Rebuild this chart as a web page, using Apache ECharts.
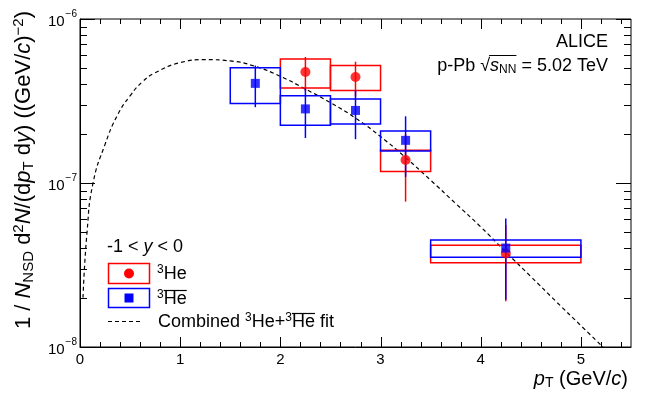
<!DOCTYPE html>
<html>
<head>
<meta charset="utf-8">
<script src="https://cdn.jsdelivr.net/npm/echarts@6/dist/echarts.min.js"></script>
<style>
  html, body { margin: 0; padding: 0; background: #fff; }
  #chart { width: 664px; height: 395px; }
</style>
</head>
<body>
<div id="chart"></div>
<script>
// 3He points: pT centre, bin edges, value, stat error, syst error
const hePt = [2.25, 2.75, 3.25, 4.25];
const heBinLo = [2.0, 2.5, 3.0, 3.5];
const heBinHi = [2.5, 3.0, 3.5, 5.0];
const heVal = [4.75e-7, 4.43e-7, 1.38e-7, 3.72e-8];
const heStat = [1.12e-7, 1.06e-7, 0.61e-7, 1.82e-8];
const heSys = [0.96e-7, 0.77e-7, 0.205e-7, 0.46e-8];

// anti-3He points
const ahePt = [1.75, 2.25, 2.75, 3.25, 4.25];
const aheBinLo = [1.5, 2.0, 2.5, 3.0, 3.5];
const aheBinHi = [2.0, 2.5, 3.0, 3.5, 5.0];
const aheVal = [4.05e-7, 2.83e-7, 2.77e-7, 1.82e-7, 4.01e-8];
const aheStat = [1.15e-7, 0.95e-7, 0.92e-7, 0.73e-7, 2.06e-8];
const aheSys = [1.0e-7, 0.58e-7, 0.48e-7, 0.255e-7, 0.485e-8];

// combined fit curve
const fitPt = [0.03, 0.07, 0.13, 0.25, 0.375, 0.5, 0.625, 0.75, 1.0, 1.25, 1.5, 1.75, 2.0, 2.25, 2.5, 2.75, 3.0, 3.25, 3.5, 3.75, 4.0, 4.25, 4.5, 4.75, 5.0, 5.22];
const fitVal = [2.0e-8, 5.0e-8, 1.0e-7, 1.72e-7, 2.6e-7, 3.4e-7, 4.15e-7, 4.7e-7, 5.42e-7, 5.65e-7, 5.55e-7, 5.14e-7, 4.47e-7, 3.74e-7, 3.09e-7, 2.49e-7, 1.92e-7, 1.43e-7, 1.04e-7, 7.5e-8, 5.4e-8, 3.8e-8, 2.69e-8, 1.9e-8, 1.35e-8, 1.0e-8];

// tick marks
const xMajorTicks = [0, 1, 2, 3, 4, 5];
const xMinorTicks = [0.2, 0.4, 0.6, 0.8, 1.2, 1.4, 1.6, 1.8, 2.2, 2.4, 2.6, 2.8, 3.2, 3.4, 3.6, 3.8, 4.2, 4.4, 4.6, 4.8, 5.2, 5.4];
const yMajorTicks = [1e-8, 1e-7, 1e-6];
const yMinorTicks = [2e-8, 3e-8, 4e-8, 5e-8, 6e-8, 7e-8, 8e-8, 9e-8, 2e-7, 3e-7, 4e-7, 5e-7, 6e-7, 7e-7, 8e-7, 9e-7];

const FONT = "Liberation Sans";
const RED = "#ff0000";
const BLUE = "#0000ff";

// text width helper, used to place the overlines
const mctx = document.createElement("canvas").getContext("2d");
function tw(s, size, italic) {
  mctx.font = (italic ? "italic " : "") + size + "px '" + FONT + "'";
  return mctx.measureText(s).width;
}

function boxData(pt, val, stat, sys, lo, hi) {
  return pt.map((p, i) => [p, val[i], stat[i], sys[i], lo[i], hi[i]]);
}

function boxRenderer(color) {
  return function (params, api) {
    const x = api.value(0), v = api.value(1), stat = api.value(2), sys = api.value(3);
    const tl = api.coord([api.value(4), v + sys]);
    const br = api.coord([api.value(5), v - sys]);
    const et = api.coord([x, v + stat]);
    const eb = api.coord([x, v - stat]);
    return {
      type: "group",
      children: [
        {
          type: "rect",
          shape: { x: tl[0], y: tl[1], width: br[0] - tl[0], height: br[1] - tl[1] },
          style: { fill: "none", stroke: color, lineWidth: 1.5 },
        },
        {
          type: "line",
          shape: { x1: et[0], y1: et[1], x2: eb[0], y2: eb[1] },
          style: { stroke: color, lineWidth: 1.5 },
        },
      ],
    };
  };
}

const tickData = []
  .concat(xMajorTicks.map((v) => [v, 1e-7, 0, 1]))
  .concat(xMinorTicks.map((v) => [v, 1e-7, 0, 0]))
  .concat(yMajorTicks.map((v) => [1, v, 1, 1]))
  .concat(yMinorTicks.map((v) => [1, v, 1, 0]));

function tickRenderer(params, api) {
  const cs = params.coordSys;
  const isY = api.value(2) === 1;
  const major = api.value(3) === 1;
  const st = { stroke: "#000", lineWidth: 1 };
  if (!isY) {
    const px = Math.round(api.coord([api.value(0), 1e-7])[0]) + 0.5;
    const len = major ? 10 : 5;
    const bot = cs.y + cs.height, top = cs.y;
    return {
      type: "group",
      children: [
        { type: "line", shape: { x1: px, y1: bot, x2: px, y2: bot - len }, style: st },
        { type: "line", shape: { x1: px, y1: top, x2: px, y2: top + len }, style: st },
      ],
    };
  }
  const py = Math.round(api.coord([1, api.value(1)])[1]) + 0.5;
  const len = major ? 15 : 7;
  const left = cs.x, right = cs.x + cs.width;
  return {
    type: "group",
    children: [
      { type: "line", shape: { x1: left, y1: py, x2: left + len, y2: py }, style: st },
      { type: "line", shape: { x1: right, y1: py, x2: right - len, y2: py }, style: st },
    ],
  };
}

function rich(size) {
  const s = Math.round(size * 0.68);
  const off = Math.round(size * 0.45);
  return {
    i: { fontFamily: FONT, fontStyle: "italic", fontSize: size, color: "#000" },
    sub: { fontFamily: FONT, fontSize: s, verticalAlign: "bottom", color: "#000", padding: [off, 0, 0, 0] },
    sup: { fontFamily: FONT, fontSize: s, verticalAlign: "top", color: "#000", padding: [0, 0, off, 0] },
  };
}

const TITLE = 20;
const YTITLE = 22;
const LEG = 18;
const LSUP = Math.round(LEG * 0.68);

// positions of the overlines (anti-particle bar and square root bar)
const leg1x = 157 + tw("3", LSUP);
const leg2x = 158 + tw("Combined ", LEG) + tw("3", LSUP) + tw("He+", LEG) + tw("3", LSUP);
const heW = tw("He", LEG);
const energyW = tw("p-Pb \u221A", 18) + tw("s", 18, true) + tw("NN", 12) + tw(" = 5.02 TeV", 18);
const sqrtX0 = 608 - energyW + tw("p-Pb \u221A", 18) - 1;
const sqrtX1 = sqrtX0 + 1 + tw("s", 18, true) + tw("NN", 12);

const chart = echarts.init(document.getElementById("chart"), null, { renderer: "canvas" });

const option = {
  animation: false,
  backgroundColor: "#fff",
  grid: {
    left: 80, right: 33, top: 19, bottom: 48,
    show: true, borderColor: "#000", borderWidth: 1,
  },
  xAxis: {
    type: "value",
    min: 0, max: 5.5, interval: 1,
    axisLine: { show: true, lineStyle: { color: "#000", width: 1 } },
    axisTick: { show: false },
    splitLine: { show: false },
    axisLabel: {
      showMaxLabel: false,
      color: "#000", fontFamily: FONT, fontSize: 15, margin: 5,
    },
  },
  yAxis: {
    type: "log",
    logBase: 10,
    min: 1e-8, max: 1e-6,
    axisLine: { show: true, lineStyle: { color: "#000", width: 1 } },
    axisTick: { show: false },
    splitLine: { show: false },
    minorTick: { show: false },
    axisLabel: {
      margin: 3,
      formatter: (v) => "{b|10}{e|" + "\u2212" + String(-Math.round(Math.log10(v))) + "}",
      rich: {
        b: { fontFamily: FONT, fontSize: 15, color: "#000", verticalAlign: "bottom" },
        e: { fontFamily: FONT, fontSize: 10, color: "#000", verticalAlign: "top", padding: [0, 0, 10, 1] },
      },
    },
  },
  graphic: [
    {
      type: "text", x: 24, y: 11, rotation: Math.PI / 2,
      style: {
        text: "1 / {i|N}{sub|NSD} d{sup|2}{i|N}/(d{i|p}{sub|T} d{i|y}) ((GeV/{i|c}){sup|\u22122})",
        align: "right", verticalAlign: "middle",
        fontFamily: FONT, fontSize: YTITLE, fill: "#000",
        rich: rich(YTITLE),
      },
    },
    {
      type: "text", x: 628, y: 379,
      style: {
        text: "{i|p}{sub|T} (GeV/{i|c})",
        align: "right", verticalAlign: "middle",
        fontFamily: FONT, fontSize: TITLE, fill: "#000",
        rich: rich(TITLE),
      },
    },
    {
      type: "text", x: 608, y: 42,
      style: { text: "ALICE", align: "right", verticalAlign: "middle", fontFamily: FONT, fontSize: 18, fill: "#000" },
    },
    {
      type: "text", x: 608, y: 66,
      style: {
        text: "p-Pb \u221A{i|s}{sub|NN} = 5.02 TeV",
        align: "right", verticalAlign: "middle",
        fontFamily: FONT, fontSize: 18, fill: "#000",
        rich: {
          i: { fontFamily: FONT, fontStyle: "italic", fontSize: 18, color: "#000" },
          sub: { fontFamily: FONT, fontSize: 12, verticalAlign: "bottom", color: "#000", padding: [8, 0, 0, 0] },
        },
      },
    },
    { type: "line", shape: { x1: sqrtX0, y1: 55.5, x2: sqrtX1, y2: 55.5 }, style: { stroke: "#000", lineWidth: 1 } },
    // legend
    {
      type: "text", x: 107, y: 247,
      style: {
        text: "-1 < {i|y} < 0", verticalAlign: "middle",
        fontFamily: FONT, fontSize: LEG, fill: "#000",
        rich: { i: { fontFamily: FONT, fontStyle: "italic", fontSize: LEG, color: "#000" } },
      },
    },
    { type: "rect", shape: { x: 108.5, y: 263.5, width: 41, height: 20 }, style: { fill: "none", stroke: RED, lineWidth: 1.5 } },
    { type: "circle", shape: { cx: 129, cy: 273.5, r: 5 }, style: { fill: RED } },
    {
      type: "text", x: 157, y: 274,
      style: { text: "{sup|3}He", verticalAlign: "middle", fontFamily: FONT, fontSize: LEG, fill: "#000", rich: rich(LEG) },
    },
    { type: "rect", shape: { x: 108.5, y: 288.5, width: 41, height: 19 }, style: { fill: "none", stroke: BLUE, lineWidth: 1.5 } },
    { type: "rect", shape: { x: 124.5, y: 293.5, width: 9, height: 9 }, style: { fill: BLUE } },
    {
      type: "text", x: 157, y: 299,
      style: { text: "{sup|3}He", verticalAlign: "middle", fontFamily: FONT, fontSize: LEG, fill: "#000", rich: rich(LEG) },
    },
    { type: "line", shape: { x1: leg1x, y1: 290.5, x2: leg1x + heW, y2: 290.5 }, style: { stroke: "#000", lineWidth: 1.2 } },
    { type: "line", shape: { x1: 108, y1: 321.5, x2: 143, y2: 321.5 }, style: { stroke: "#000", lineWidth: 1.2, lineDash: [4, 3] } },
    {
      type: "text", x: 158, y: 322,
      style: { text: "Combined {sup|3}He+{sup|3}He fit", verticalAlign: "middle", fontFamily: FONT, fontSize: LEG, fill: "#000", rich: rich(LEG) },
    },
    { type: "line", shape: { x1: leg2x, y1: 313.5, x2: leg2x + heW, y2: 313.5 }, style: { stroke: "#000", lineWidth: 1.2 } },
  ],
  series: [
    {
      name: "fit",
      type: "line",
      data: fitPt.map((p, i) => [p, fitVal[i]]),
      showSymbol: false,
      smooth: 0.5,
      lineStyle: { color: "#000", width: 1.2, type: [4, 3] },
      z: 1,
    },
    {
      name: "3He boxes",
      type: "custom",
      data: boxData(hePt, heVal, heStat, heSys, heBinLo, heBinHi),
      encode: { x: 0, y: 1 },
      renderItem: boxRenderer(RED),
      z: 2,
    },
    {
      name: "anti3He boxes",
      type: "custom",
      data: boxData(ahePt, aheVal, aheStat, aheSys, aheBinLo, aheBinHi),
      encode: { x: 0, y: 1 },
      renderItem: boxRenderer(BLUE),
      z: 3,
    },
    {
      name: "3He",
      type: "scatter",
      data: hePt.map((p, i) => [p, heVal[i]]),
      symbol: "circle",
      symbolSize: 10,
      itemStyle: { color: RED },
      z: 4,
    },
    {
      name: "anti3He",
      type: "scatter",
      data: ahePt.map((p, i) => [p, aheVal[i]]),
      symbol: "rect",
      symbolSize: 9,
      itemStyle: { color: BLUE },
      z: 5,
    },
    {
      name: "ticks",
      type: "custom",
      data: tickData,
      encode: { x: 0, y: 1 },
      renderItem: tickRenderer,
      silent: true,
      z: 6,
    },
  ],
};

chart.setOption(option);
</script>
</body>
</html>
